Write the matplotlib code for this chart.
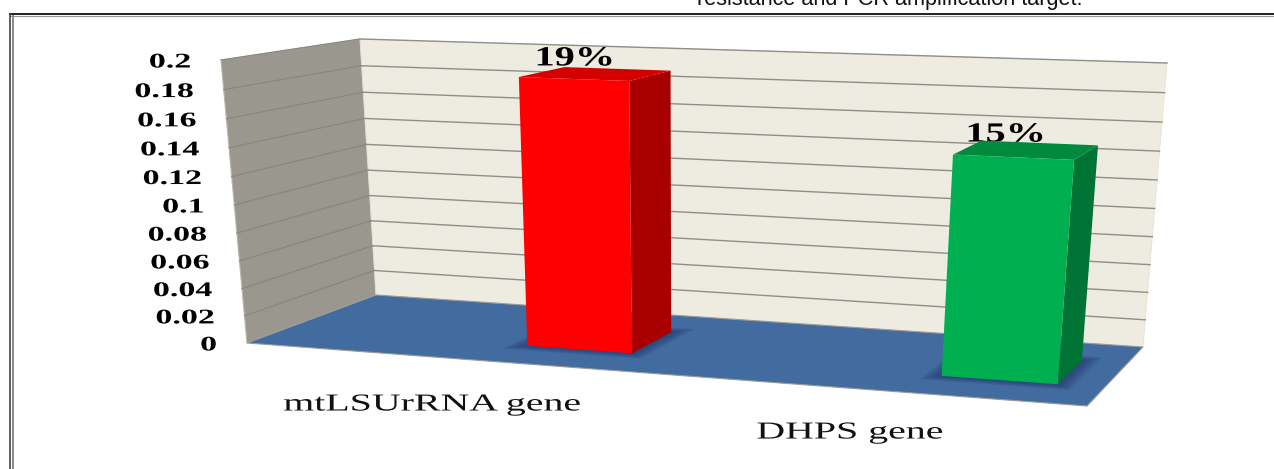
import matplotlib
matplotlib.use("Agg")
import matplotlib.pyplot as plt
import matplotlib.patheffects as pe
from matplotlib.patches import Polygon
from matplotlib.transforms import Affine2D
import numpy as np

categories = ["mtLSUrRNA gene", "DHPS gene"]
values = [0.19, 0.15]
bar_labels = ["19%", "15%"]
y_ticks = [0, 0.02, 0.04, 0.06, 0.08, 0.1, 0.12, 0.14, 0.16, 0.18, 0.2]
y_max = 0.2

face_colors = ["#ff0000", "#00b050"]
side_colors = ["#a80000", "#007434"]
top_colors = ["#d40000", "#008a3e"]
# bar footprints on the floor, fractions of width and depth
bar_u = [(0.294, 0.422), (0.801, 0.943)]
bar_w = (0.31, 0.71)

# box corners in pixels: (front left, front right, back left, back right)
floor_box = np.array([[247, 343], [1087, 406], [376, 295], [1143, 347]], float)
top_box = np.array([[221, 60], [1112, 92], [360, 39], [1167, 63]], float)


def bilinear(box, u, w):
    front = box[0] + (box[1] - box[0]) * u
    back = box[2] + (box[3] - box[2]) * u
    return front + (back - front) * w


def project(u, w, v):
    # slight foreshortening up the walls
    f = v / y_max
    f = f / (1 + 0.05 * (1 - f))
    a = bilinear(floor_box, u, w)
    b = bilinear(top_box, u, w)
    return a + (b - a) * f


class Stretch(pe.AbstractPathEffect):
    # widens glyphs about a fixed x position
    def __init__(self, x0, sx):
        super().__init__()
        self.x0 = x0
        self.sx = sx

    def draw_path(self, renderer, gc, tpath, affine, rgbFace=None):
        wide = affine + Affine2D().translate(-self.x0, 0).scale(self.sx, 1).translate(self.x0, 0)
        renderer.draw_path(gc, tpath, wide, rgbFace)


def poly(ax, pts, color, z, edge="none", alpha=None, lw=0.0):
    ax.add_patch(Polygon(pts, closed=True, facecolor=color, edgecolor=edge, alpha=alpha, lw=lw, zorder=z))


fig = plt.figure(figsize=(12.74, 4.69), dpi=100)
ax = fig.add_axes([0, 0, 1, 1])
ax.set_xlim(0, 1274)
ax.set_ylim(469, 0)
ax.axis("off")

# clipped caption line and the double frame
ax.text(890, 4.5, "resistance and PCR amplification target.", family="Liberation Sans",
        fontsize=15.6, ha="center", va="baseline", color="#111111")
ax.plot([9.5, 1274], [14.5, 14.5], color="#222222", lw=1.4, zorder=1)
ax.plot([9.5, 1274], [16, 16], color="#999999", lw=0.8, zorder=1)
ax.plot([9.5, 9.5], [14.5, 469], color="#444444", lw=1.2, zorder=1)
ax.plot([13, 13], [16, 469], color="#888888", lw=1.4, zorder=1)

# walls and floor
poly(ax, [project(0, 0, 0), project(0, 1, 0), project(0, 1, y_max), project(0, 0, y_max)],
     "#9a978e", 2, edge="#b5b3aa", lw=0.8)
poly(ax, [project(0, 1, 0), project(1, 1, 0), project(1, 1, y_max), project(0, 1, y_max)],
     "#eeece1", 2, edge="#e4e2d8", lw=0.6)
poly(ax, [project(0, 0, 0), project(1, 0, 0), project(1, 1, 0), project(0, 1, 0)],
     "#426ba0", 3, edge="#9a9a96", lw=0.8)

for t in y_ticks[1:]:
    p = np.array([project(0, 0, t), project(0, 1, t)])
    ax.plot(p[:, 0], p[:, 1], color="#868580", lw=0.8, zorder=3)
    p = np.array([project(0, 1, t), project(1, 1, t)])
    ax.plot(p[:, 0], p[:, 1], color="#8f8e88", lw=1.0, zorder=3)

# y axis tick labels along the front edge of the side wall
for t in y_ticks:
    x, y = project(0, 0, t)
    x = x - 30
    ax.text(x, y, f"{t:g}", family="Liberation Serif", weight="bold", fontsize=15,
            ha="right", va="center_baseline", color="black", path_effects=[Stretch(x, 1.63)], zorder=6)

# bars
for i in range(len(values)):
    u0, u1 = bar_u[i]
    w0, w1 = bar_w
    v = values[i]

    # soft contact shadow on the floor
    for k in range(6):
        du = 0.004 * k
        dw = 0.016 * k
        poly(ax, [project(u0 - du, w0 - dw, 0), project(u1 + du, w0 - dw, 0),
                  project(u1 + du, w1 + dw, 0), project(u0 - du, w1 + dw, 0)],
             "#1f2f60", 4, alpha=0.15)

    x_mid, y_mid = project((u0 + u1) / 2, (w0 + w1) / 2, v)
    lx, ly = x_mid - 21, y_mid - 15
    ax.text(lx, ly, bar_labels[i], family="Liberation Serif", weight="bold", fontsize=20,
            ha="center", va="center", color="black", path_effects=[Stretch(lx, 1.45)], zorder=5)

    poly(ax, [project(u1, w0, 0), project(u1, w1, 0), project(u1, w1, v), project(u1, w0, v)],
         side_colors[i], 7)
    poly(ax, [project(u0, w0, v), project(u1, w0, v), project(u1, w1, v), project(u0, w1, v)],
         top_colors[i], 7)
    poly(ax, [project(u0, w0, 0), project(u1, w0, 0), project(u1, w0, v), project(u0, w0, v)],
         face_colors[i], 8)

# category labels under the floor
cat_x = [432, 850]
cat_y = [405, 433]
for name, x, y in zip(categories, cat_x, cat_y):
    ax.text(x, y, name, family="Liberation Serif", fontsize=17.5, ha="center", va="center",
            color="#111111", path_effects=[Stretch(x, 1.64)], zorder=6)

fig.savefig("out.png", dpi=100)
